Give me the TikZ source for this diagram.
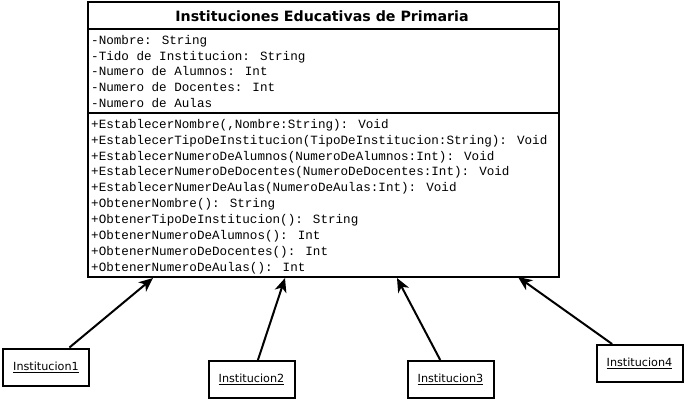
\documentclass[tikz,border=0pt]{standalone}
\usepackage{fontspec}
\setmainfont{DejaVu Sans}
\newfontfamily\monof{Liberation Mono}
\usetikzlibrary{arrows.meta}
\tikzset{
  line/.style={line width=2pt},
  member/.style={anchor=base west, inner sep=0pt, font=\monof\fontsize{12.6}{14}\selectfont},
  objbox/.style={draw, line width=2pt, minimum width=86pt, minimum height=37pt, inner sep=0pt, font=\fontsize{11.2}{13}\selectfont},
  inh/.style={line width=2pt, -{Stealth[length=14pt,width=12pt,inset=4pt]}},
}
\begin{document}
\begin{tikzpicture}[x=1pt,y=-1pt]
\useasboundingbox (0,0) rectangle (685,400);
\node[draw, line width=2pt, minimum width=471pt, minimum height=275pt, inner sep=0pt, anchor=north west] (cls) at (87,1) {};
\draw[line] (87,29) -- (558,29);
\draw[line] (87,113) -- (558,113);
\node[font=\bfseries\fontsize{14.2}{16}\selectfont, inner sep=0pt] (title) at (322,16) {Instituciones Educativas de Primaria};
\foreach \t [count=\i] in {-Nombre: String,-Tido de Institucion: String,-Numero de Alumnos: Int,-Numero de Docentes: Int,-Numero de Aulas}
  \node[member] (a\i) at (91,{40+(\i-1)*15.85+4.2}) {\t};
\foreach \t [count=\i] in {{+EstablecerNombre(,Nombre:String): Void},+EstablecerTipoDeInstitucion(TipoDeInstitucion:String): Void,+EstablecerNumeroDeAlumnos(NumeroDeAlumnos:Int): Void,+EstablecerNumeroDeDocentes(NumeroDeDocentes:Int): Void,+EstablecerNumerDeAulas(NumeroDeAulas:Int): Void,+ObtenerNombre(): String,+ObtenerTipoDeInstitucion(): String,+ObtenerNumeroDeAlumnos(): Int,+ObtenerNumeroDeDocentes(): Int,+ObtenerNumeroDeAulas(): Int}
  \node[member] (m\i) at (91,{124+(\i-1)*15.9+4.2}) {\t};
\node[objbox] (i1) at (46,367) {\underline{Institucion1}};
\node[objbox] (i2) at (251.5,379.5) {\underline{Institucion2}};
\node[objbox] (i3) at (450.5,379.5) {\underline{Institucion3}};
\node[objbox] (i4) at (639.5,363.5) {\underline{Institucion4}};
\coordinate (t1) at (153,278);
\coordinate (t2) at (285,278);
\coordinate (t3) at (397,278);
\coordinate (t4) at (518,277);
\draw[inh] (i1) -- (t1);
\draw[inh] (i2) -- (t2);
\draw[inh] (i3) -- (t3);
\draw[inh] (i4) -- (t4);
\end{tikzpicture}
\end{document}
